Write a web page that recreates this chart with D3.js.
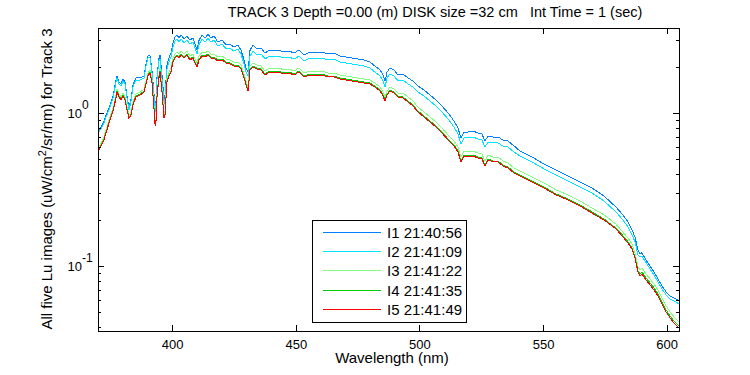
<!DOCTYPE html>
<html>
<head>
<meta charset="utf-8">
<script src="https://cdn.jsdelivr.net/npm/d3@7"></script>
<style>
  body { margin: 0; background: #fff; }
  svg text { font-family: "Liberation Sans", Arial, sans-serif; fill: #000; }
</style>
</head>
<body>
<script>
// wavelength (nm)
var wavelength = [370.0, 371.2, 372.4, 373.6, 374.9, 376.1, 377.3, 377.7, 378.5, 379.3,
  380.1, 380.9, 381.7, 382.5, 383.3, 384.2, 385.4, 387.0, 388.6, 389.4,
  390.2, 391.0, 391.8, 392.7, 393.1, 393.5, 393.9, 394.7, 395.1, 395.9,
  396.7, 397.1, 397.9, 398.7, 399.5, 400.3, 401.1, 402.0, 402.8, 403.6,
  404.8, 406.0, 407.2, 408.4, 409.2, 410.0, 410.9, 412.1, 413.3, 414.5,
  415.7, 416.9, 418.5, 420.2, 421.8, 423.4, 425.0, 426.6, 427.8, 429.1,
  429.9, 430.7, 431.5, 432.7, 434.3, 435.9, 437.6, 439.2, 441.2, 443.2,
  445.2, 447.3, 449.3, 451.3, 453.3, 455.8, 458.2, 460.6, 463.0, 465.5,
  467.9, 470.3, 472.7, 475.2, 477.6, 480.0, 482.0, 484.1, 485.3, 486.1,
  486.9, 488.1, 489.7, 491.4, 493.4, 495.4, 497.4, 499.4, 501.9, 504.3,
  506.7, 509.1, 511.6, 514.0, 515.6, 516.8, 518.0, 519.7, 521.7, 523.7,
  525.3, 526.5, 527.8, 529.8, 531.8, 533.8, 535.8, 538.3, 540.7, 545.6,
  550.4, 555.3, 560.1, 565.0, 569.8, 574.7, 579.5, 582.0, 584.4, 586.0,
  587.2, 588.4, 589.2, 590.0, 591.7, 593.3, 594.9, 596.5, 598.1, 599.8,
  601.4, 603.0, 605.0];

// Lu for each image (uW/cm^2/sr/nm)
var lu1 = [0.766, 0.813, 0.890, 1.004, 1.133, 1.298, 1.652, 1.755, 1.603, 1.555,
  1.677, 1.603, 1.317, 1.083, 1.222, 1.555, 1.703, 1.703, 1.755, 2.103,
  2.372, 2.408, 1.921, 1.317, 1.051, 1.222, 1.781, 2.302, 2.408, 1.781,
  1.222, 1.317, 2.071, 2.302, 2.482, 2.886, 3.160, 3.257, 3.113, 3.257,
  3.066, 3.208, 3.020, 3.113, 2.843, 2.597, 3.020, 3.257, 3.113, 3.306,
  3.113, 3.208, 2.930, 3.020, 2.801, 2.843, 2.718, 2.801, 2.597, 2.234,
  1.980, 1.864, 2.597, 2.801, 2.637, 2.677, 2.482, 2.597, 2.558, 2.597,
  2.520, 2.558, 2.482, 2.597, 2.408, 2.520, 2.482, 2.520, 2.445, 2.482,
  2.372, 2.337, 2.302, 2.268, 2.234, 2.167, 2.040, 1.921, 1.781, 1.627,
  1.864, 1.980, 1.921, 1.781, 1.808, 1.703, 1.627, 1.509, 1.421, 1.317,
  1.222, 1.116, 1.004, 0.890, 0.801, 0.689, 0.754, 0.754, 0.766, 0.743,
  0.732, 0.658, 0.710, 0.699, 0.699, 0.669, 0.658, 0.611, 0.566, 0.517,
  0.465, 0.425, 0.388, 0.355, 0.324, 0.287, 0.243, 0.219, 0.194, 0.172,
  0.155, 0.127, 0.120, 0.122, 0.109, 0.100, 0.0913, 0.0822, 0.0740, 0.0676,
  0.0636, 0.0617, 0.0590];

var lu2 = [0.743, 0.789, 0.864, 0.975, 1.099, 1.259, 1.603, 1.703, 1.555, 1.509,
  1.627, 1.555, 1.278, 1.051, 1.185, 1.509, 1.652, 1.652, 1.703, 2.040,
  2.302, 2.337, 1.864, 1.278, 1.020, 1.185, 1.729, 2.234, 2.268, 1.677,
  1.150, 1.240, 1.950, 2.167, 2.337, 2.718, 2.975, 3.066, 2.930, 3.066,
  2.886, 3.020, 2.843, 2.930, 2.677, 2.445, 2.843, 3.066, 2.930, 3.113,
  2.930, 3.020, 2.759, 2.843, 2.637, 2.677, 2.558, 2.637, 2.445, 2.103,
  1.864, 1.755, 2.372, 2.558, 2.408, 2.445, 2.268, 2.372, 2.337, 2.372,
  2.302, 2.337, 2.268, 2.372, 2.200, 2.302, 2.268, 2.302, 2.234, 2.268,
  2.167, 2.135, 2.103, 2.071, 2.040, 1.980, 1.864, 1.755, 1.627, 1.487,
  1.703, 1.808, 1.755, 1.627, 1.652, 1.555, 1.487, 1.378, 1.298, 1.204,
  1.116, 1.020, 0.917, 0.813, 0.732, 0.629, 0.689, 0.689, 0.699, 0.679,
  0.669, 0.602, 0.649, 0.639, 0.639, 0.611, 0.602, 0.558, 0.525, 0.480,
  0.432, 0.394, 0.360, 0.329, 0.301, 0.266, 0.226, 0.203, 0.180, 0.160,
  0.144, 0.118, 0.115, 0.116, 0.105, 0.0955, 0.0873, 0.0785, 0.0707, 0.0646,
  0.0608, 0.0590, 0.0564];

var lu3 = [0.584, 0.639, 0.699, 0.813, 0.946, 1.083, 1.317, 1.442, 1.337, 1.278,
  1.358, 1.278, 1.099, 0.975, 1.004, 1.204, 1.337, 1.378, 1.442, 1.627,
  1.836, 1.921, 1.677, 1.099, 0.864, 0.946, 1.378, 1.808, 1.980, 1.464,
  0.989, 1.035, 1.703, 1.864, 1.980, 2.302, 2.445, 2.520, 2.445, 2.558,
  2.445, 2.558, 2.372, 2.445, 2.268, 2.135, 2.372, 2.520, 2.482, 2.558,
  2.445, 2.445, 2.337, 2.372, 2.268, 2.234, 2.167, 2.167, 2.071, 1.808,
  1.627, 1.487, 2.040, 2.135, 2.071, 2.040, 1.892, 1.980, 1.950, 1.980,
  1.921, 1.950, 1.892, 1.980, 1.836, 1.892, 1.864, 1.892, 1.836, 1.836,
  1.781, 1.755, 1.729, 1.703, 1.677, 1.652, 1.579, 1.487, 1.378, 1.278,
  1.399, 1.487, 1.442, 1.358, 1.358, 1.278, 1.204, 1.099, 1.020, 0.946,
  0.877, 0.801, 0.721, 0.658, 0.602, 0.517, 0.566, 0.558, 0.566, 0.549,
  0.541, 0.487, 0.533, 0.517, 0.517, 0.487, 0.473, 0.438, 0.419, 0.383,
  0.350, 0.315, 0.292, 0.266, 0.240, 0.216, 0.188, 0.169, 0.152, 0.139,
  0.122, 0.0985, 0.0941, 0.0970, 0.0886, 0.0822, 0.0762, 0.0696, 0.0617, 0.0547,
  0.0500, 0.0463, 0.0430];

var lu4 = [0.566, 0.620, 0.679, 0.789, 0.917, 1.051, 1.278, 1.399, 1.298, 1.240,
  1.317, 1.240, 1.067, 0.946, 0.975, 1.168, 1.298, 1.337, 1.399, 1.579,
  1.781, 1.864, 1.627, 1.067, 0.838, 0.917, 1.337, 1.755, 1.892, 1.399,
  0.946, 0.989, 1.627, 1.781, 1.892, 2.200, 2.337, 2.408, 2.337, 2.445,
  2.337, 2.445, 2.268, 2.337, 2.167, 2.040, 2.268, 2.408, 2.372, 2.445,
  2.337, 2.337, 2.234, 2.268, 2.167, 2.135, 2.071, 2.071, 1.980, 1.729,
  1.555, 1.421, 1.950, 2.040, 1.980, 1.950, 1.808, 1.892, 1.864, 1.892,
  1.836, 1.864, 1.808, 1.892, 1.755, 1.808, 1.781, 1.808, 1.755, 1.755,
  1.703, 1.677, 1.652, 1.627, 1.603, 1.579, 1.509, 1.421, 1.317, 1.222,
  1.337, 1.421, 1.378, 1.298, 1.278, 1.204, 1.133, 1.035, 0.960, 0.890,
  0.826, 0.754, 0.679, 0.620, 0.566, 0.487, 0.533, 0.525, 0.533, 0.517,
  0.510, 0.458, 0.502, 0.487, 0.487, 0.458, 0.445, 0.413, 0.394, 0.360,
  0.329, 0.296, 0.275, 0.251, 0.226, 0.203, 0.177, 0.160, 0.144, 0.131,
  0.115, 0.0927, 0.0886, 0.0913, 0.0834, 0.0774, 0.0718, 0.0655, 0.0581, 0.0515,
  0.0470, 0.0436, 0.0405];

var lu5 = [0.558, 0.611, 0.669, 0.777, 0.904, 1.035, 1.259, 1.378, 1.278, 1.222,
  1.298, 1.222, 1.051, 0.931, 0.960, 1.150, 1.278, 1.317, 1.378, 1.555,
  1.755, 1.836, 1.603, 1.051, 0.826, 0.904, 1.317, 1.729, 1.864, 1.378,
  0.931, 0.975, 1.603, 1.755, 1.864, 2.167, 2.302, 2.372, 2.302, 2.408,
  2.302, 2.408, 2.234, 2.302, 2.135, 2.010, 2.234, 2.372, 2.337, 2.408,
  2.302, 2.302, 2.200, 2.234, 2.135, 2.103, 2.040, 2.040, 1.950, 1.703,
  1.532, 1.399, 1.921, 2.010, 1.950, 1.921, 1.781, 1.864, 1.836, 1.864,
  1.808, 1.836, 1.781, 1.864, 1.729, 1.781, 1.755, 1.781, 1.729, 1.729,
  1.677, 1.652, 1.627, 1.603, 1.579, 1.555, 1.487, 1.399, 1.298, 1.204,
  1.317, 1.399, 1.358, 1.278, 1.259, 1.185, 1.116, 1.020, 0.946, 0.877,
  0.813, 0.743, 0.669, 0.611, 0.558, 0.480, 0.525, 0.517, 0.525, 0.510,
  0.502, 0.452, 0.494, 0.480, 0.480, 0.452, 0.438, 0.406, 0.388, 0.355,
  0.324, 0.292, 0.271, 0.247, 0.222, 0.200, 0.175, 0.157, 0.141, 0.129,
  0.113, 0.0913, 0.0860, 0.0886, 0.0810, 0.0751, 0.0696, 0.0636, 0.0564, 0.0500,
  0.0456, 0.0423, 0.0393];

var names = ["I1 21:40:56", "I2 21:41:09", "I3 21:41:22", "I4 21:41:35", "I5 21:41:49"];
var colors = ["#0080ff", "#00e6ff", "#80ff80", "#00cc00", "#ff0000"];
var xTicks = [400, 450, 500, 550, 600];
var yMajor = [0.1, 1];
var yExp = ["-1", "0"];
var yMinor = [0.04, 0.05, 0.06, 0.07, 0.08, 0.09, 0.2, 0.3, 0.4, 0.5, 0.6, 0.7, 0.8, 0.9, 2, 3];

var allSeries = [lu1, lu2, lu3, lu4, lu5];

//Width and height
var w = 750;
var h = 375;
// plot box (window.top is read-only, so no "top" here)
var boxL = 98, boxR = 679, boxT = 28, boxB = 331;

var svg = d3.select("body")
            .append("svg")
            .attr("width", w)
            .attr("height", h);

var x = d3.scaleLinear().domain([370, 605]).range([boxL, boxR]);
var y = d3.scaleLog().domain([0.0375, 3.62]).range([boxB, boxT]);

// spectra
var line = d3.line()
  .x(function(d, i) { return x(wavelength[i]); })
  .y(function(d) { return y(d); });

svg.append("defs").append("clipPath").attr("id", "clip")
   .append("rect").attr("x", boxL).attr("y", boxT)
   .attr("width", boxR - boxL).attr("height", boxB - boxT);

svg.append("g").attr("clip-path", "url(#clip)")
   .selectAll("path")
   .data(allSeries)
   .enter()
   .append("path")
   .attr("d", line)
   .attr("fill", "none")
   .attr("stroke", function(d, i) { return colors[i]; })
   .attr("stroke-width", 1)
   .attr("shape-rendering", "crispEdges");

// axes, ticks point inward
function styleAxis(g) {
  g.select(".domain").remove();
  g.selectAll("line").attr("stroke", "#000").attr("shape-rendering", "crispEdges");
  g.selectAll("text").attr("font-size", "13px").attr("font-family", null);
}

svg.append("g").attr("transform", "translate(0," + boxB + ")")
   .call(d3.axisBottom(x).tickValues(xTicks).tickSize(-6).tickPadding(9).tickFormat(d3.format("d")))
   .call(styleAxis);
svg.append("g").attr("transform", "translate(0," + boxT + ")")
   .call(d3.axisTop(x).tickValues(xTicks).tickSize(-6).tickFormat(""))
   .call(styleAxis);

[[d3.axisLeft, boxL], [d3.axisRight, boxR]].forEach(function(a) {
  svg.append("g").attr("transform", "translate(" + a[1] + ",0)")
     .call(a[0](y).tickValues(yMajor).tickSize(-6).tickFormat(""))
     .call(styleAxis);
  svg.append("g").attr("transform", "translate(" + a[1] + ",0)")
     .call(a[0](y).tickValues(yMinor).tickSize(-3).tickFormat(""))
     .call(styleAxis);
});

// 10^n labels: "10" ends at x=82, exponent follows
svg.append("g").selectAll("text")
   .data(yMajor)
   .enter()
   .append("text")
   .attr("y", function(d) { return y(d) + 5; })
   .attr("font-size", "13px")
   .each(function(d, i) {
     var t = d3.select(this);
     t.append("tspan").attr("x", 82).attr("text-anchor", "end").text("10");
     t.append("tspan").attr("x", 82).attr("dy", -9).attr("font-size", "12px").text(yExp[i]);
   });

// frame
svg.append("rect")
   .attr("x", boxL).attr("y", boxT)
   .attr("width", boxR - boxL).attr("height", boxB - boxT)
   .attr("fill", "none").attr("stroke", "#000")
   .attr("shape-rendering", "crispEdges");

// titles
svg.append("text")
   .attr("x", 435).attr("y", 17)
   .attr("text-anchor", "middle")
   .attr("font-size", "14.5px")
   .style("white-space", "pre")
   .text("TRACK 3 Depth =0.00 (m) DISK size =32 cm   Int Time = 1 (sec)");

svg.append("text")
   .attr("x", 392).attr("y", 363)
   .attr("text-anchor", "middle")
   .attr("font-size", "15px")
   .text("Wavelength (nm)");

var ylab = svg.append("text")
   .attr("transform", "translate(52,179) rotate(-90)")
   .attr("text-anchor", "middle")
   .attr("font-size", "15px");
ylab.append("tspan").text("All five Lu images (uW/cm");
ylab.append("tspan").attr("dy", -6).attr("font-size", "11px").text("2");
ylab.append("tspan").attr("dy", 6).text("/sr/nm) for Track 3");

// legend
var lg = svg.append("g");
lg.append("rect")
  .attr("x", 312).attr("y", 220).attr("width", 154).attr("height", 102)
  .attr("fill", "#fff").attr("stroke", "#000")
  .attr("shape-rendering", "crispEdges");

var items = lg.selectAll("g.item")
  .data(names)
  .enter()
  .append("g")
  .attr("class", "item")
  .attr("transform", function(d, i) { return "translate(0," + (232.5 + i * 19.2) + ")"; });
items.append("line")
  .attr("x1", 323).attr("x2", 381)
  .attr("stroke", function(d, i) { return colors[i]; })
  .attr("shape-rendering", "crispEdges");
items.append("text")
  .attr("x", 387).attr("y", 5.5)
  .attr("font-size", "15px")
  .text(function(d) { return d; });
</script>
</body>
</html>
